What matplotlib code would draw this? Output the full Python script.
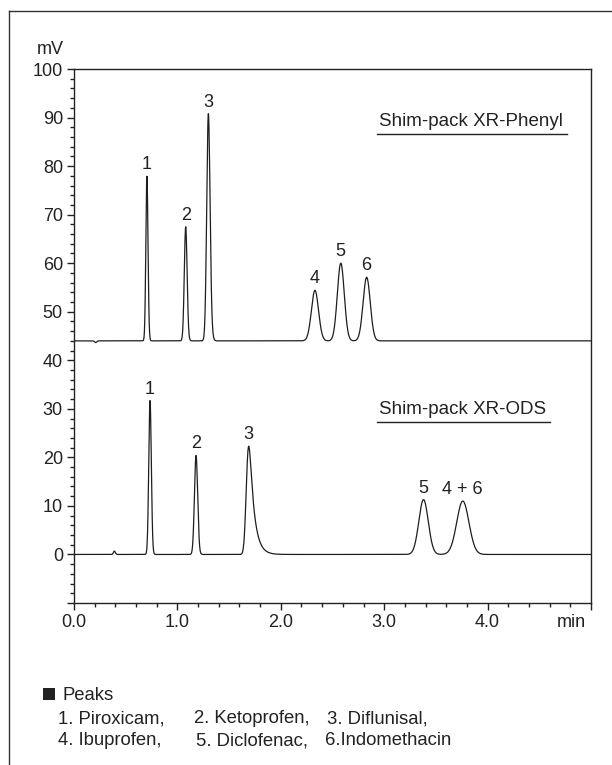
import numpy as np
import matplotlib
matplotlib.use("Agg")
import matplotlib.pyplot as plt
from matplotlib.lines import Line2D
from matplotlib.patches import Rectangle
from matplotlib.ticker import MultipleLocator, FixedLocator

plt.rcParams['font.family'] = ['Liberation Sans', 'DejaVu Sans']

# ---------------- data ----------------
# Shim-pack XR-Phenyl (upper trace, baseline offset 44 mV)
phenyl_baseline = 44.0
phenyl_rt = [0.21, 0.705, 1.08, 1.30, 2.33, 2.58, 2.83]
phenyl_height = [-0.35, 33.9, 23.5, 46.8, 10.4, 16.0, 13.1]
phenyl_sigma = [0.010, 0.010, 0.013, 0.015, 0.034, 0.033, 0.034]
phenyl_tail = [0.001, 0.003, 0.004, 0.007, 0.006, 0.006, 0.006]
phenyl_labels = [None, "1", "2", "3", "4", "5", "6"]

# Shim-pack XR-ODS (lower trace, baseline 0 mV)
ods_baseline = 0.0
ods_rt = [0.39, 0.735, 1.18, 1.69, 3.38, 3.76]
ods_height = [0.7, 31.7, 20.4, 22.3, 11.3, 11.0]
ods_sigma = [0.008, 0.012, 0.015, 0.018, 0.045, 0.058]
ods_tail = [0.004, 0.003, 0.004, 0.045, 0.008, 0.010]
ods_labels = [None, "1", "2", "3", "5", "4 + 6"]

column_names = ["Shim-pack XR-Phenyl", "Shim-pack XR-ODS"]
peak_names = ["1. Piroxicam,", "2. Ketoprofen,", "3. Diflunisal,",
              "4. Ibuprofen,", "5. Diclofenac,", "6.Indomethacin"]

x_ticks = [0.0, 1.0, 2.0, 3.0, 4.0, 5.0]
x_ticklabels = ["0.0", "1.0", "2.0", "3.0", "4.0", ""]
y_ticks = [-10, 0, 10, 20, 30, 40, 50, 60, 70, 80, 90, 100]
y_ticklabels = ["", "0", "10", "20", "30", "40", "50", "60", "70", "80", "90", "100"]

# ---------------- trace model ----------------
dx = 0.001
t = np.arange(0.0, 5.0 + dx / 2, dx)


def emg_peak(rt, h, sigma, tau):
    # Gaussian convolved with exponential, rescaled so that max = h at rt
    g = np.exp(-0.5 * ((t - 2.5) / sigma) ** 2)
    k_t = np.arange(0, 12 * tau + dx, dx)
    k = np.exp(-k_t / tau)
    conv = np.convolve(g, k)[:len(t)]
    conv /= conv.max()
    shift = rt - t[np.argmax(conv)]
    return h * np.interp(t - shift, t, conv, left=0, right=0)


def trace(base, rts, hs, sigs, taus):
    y = np.full_like(t, base)
    for rt, h, s, ta in zip(rts, hs, sigs, taus):
        y += emg_peak(rt, h, s, ta)
    return y


y_phenyl = trace(phenyl_baseline, phenyl_rt, phenyl_height, phenyl_sigma, phenyl_tail)
y_ods = trace(ods_baseline, ods_rt, ods_height, ods_sigma, ods_tail)

# ---------------- figure ----------------
fig = plt.figure(figsize=(6.12, 7.65), dpi=100)
ax = fig.add_axes([74 / 612, 1 - 603 / 765, (591 - 74) / 612, (603 - 69) / 765])

line_color = "#1e1e1e"
ax.plot(t, y_phenyl, color=line_color, lw=0.9)
ax.plot(t, y_ods, color=line_color, lw=0.9)

ax.set_xlim(0, 5.0)
ax.set_ylim(-10, 100)

for sp in ax.spines.values():
    sp.set_linewidth(1.0)
    sp.set_color("#222222")

ax.xaxis.set_major_locator(FixedLocator(x_ticks))
ax.set_xticklabels(x_ticklabels)
ax.xaxis.set_minor_locator(MultipleLocator(0.2))
ax.yaxis.set_major_locator(FixedLocator(y_ticks))
ax.set_yticklabels(y_ticklabels)
ax.yaxis.set_minor_locator(MultipleLocator(2))
ax.tick_params(axis="both", which="major", length=5, width=1.0, labelsize=13,
               color="#222222", labelcolor="#222222", pad=3)
ax.tick_params(axis="both", which="minor", length=3, width=1.0, color="#222222")

# "min" and "mV"
ax.annotate("min", xy=(4.81, 0), xycoords=("data", "axes fraction"),
            xytext=(0, -8), textcoords="offset points", ha="center", va="top",
            fontsize=13, color="#222222")
ax.annotate("mV", xy=(0, 1), xycoords="axes fraction", xytext=(-17, 14),
            textcoords="offset points", ha="center", va="center",
            fontsize=13, color="#222222")

# peak labels
for base, rts, hs, labels in [(phenyl_baseline, phenyl_rt, phenyl_height, phenyl_labels),
                              (ods_baseline, ods_rt, ods_height, ods_labels)]:
    for rt, h, lab in zip(rts, hs, labels):
        if lab is None:
            continue
        ax.annotate(lab, xy=(rt, base + h), xytext=(0, 5), textcoords="offset points",
                    ha="center", va="baseline", fontsize=13, color="#222222")

# column names with underline
col_pos = [(2.95, 88.2), (2.95, 28.9)]
texts = []
for name, (cx, cy) in zip(column_names, col_pos):
    texts.append(ax.text(cx, cy, name, fontsize=13.5, color="#222222",
                         ha="left", va="baseline"))
fig.canvas.draw()
inv = ax.transData.inverted()
for tx in texts:
    bb = tx.get_window_extent()
    x0, _ = inv.transform((bb.x0 - 2, 0))
    x1, _ = inv.transform((bb.x1 + 4, 0))
    _, yb = tx.get_position()
    ax.plot([x0, x1], [yb - 1.6, yb - 1.6], color="#222222", lw=1.0)

# outer frame (left and top)
fig.add_artist(Line2D([9 / 612, 9 / 612], [0, 1 - 11 / 765], transform=fig.transFigure,
                      color="#333333", lw=1.0))
fig.add_artist(Line2D([9 / 612, 1], [1 - 11 / 765, 1 - 11 / 765], transform=fig.transFigure,
                      color="#333333", lw=1.0))

# peak list
fs_list = 13.3
fig.add_artist(Rectangle((43 / 612, 1 - 700 / 765), 12 / 612, 12 / 765,
                         transform=fig.transFigure, facecolor="#222222",
                         edgecolor="none"))
fig.text(62 / 612, 1 - 700 / 765, "Peaks", fontsize=fs_list, color="#222222",
         va="baseline", ha="left")
col_x = [[58, 194, 327], [58, 196, 325]]
row_y = [723, 745]
for r in range(2):
    for c in range(3):
        fig.text(col_x[r][c] / 612, 1 - row_y[r] / 765, peak_names[r * 3 + c],
                 fontsize=fs_list, color="#222222", va="baseline", ha="left")

fig.savefig("out.png", dpi=100)
